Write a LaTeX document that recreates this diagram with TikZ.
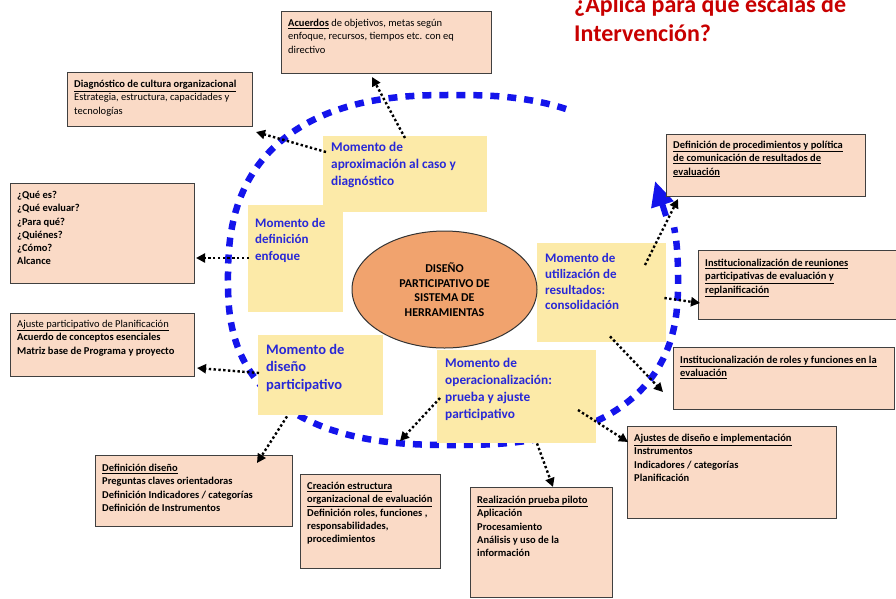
\documentclass[tikz,border=0pt]{standalone}
\usepackage{fontspec}
\setmainfont{Carlito}
\usetikzlibrary{arrows.meta,calc,shapes.geometric}
\definecolor{salmon}{RGB}{250,218,198}
\definecolor{yel}{RGB}{252,234,168}
\definecolor{orng}{RGB}{241,163,110}
\definecolor{bluet}{RGB}{40,40,215}
\definecolor{blueline}{RGB}{20,20,235}
\definecolor{redt}{RGB}{200,0,0}
\newcommand{\ulx}[1]{\underline{#1}}
\tikzset{
 bx/.style={draw=black!75, line width=1pt, fill=salmon, anchor=north west, inner sep=0pt},
 bt/.style={anchor=north west, align=left, font=\fontsize{10.5}{13.3}\selectfont, inner sep=0pt},
 btb/.style={bt, font=\fontsize{10.5}{13.3}\selectfont\bfseries},
 yb/.style={fill=yel, anchor=north west, inner sep=0pt},
 yt/.style={anchor=north west, align=left, text=bluet, font=\fontsize{13.3}{17}\selectfont\bfseries, inner sep=0pt},
 darr/.style={line width=2.4pt, dash pattern=on 2.4pt off 2.4pt, -{Triangle[length=9pt,width=9pt]}},
 ttl/.style={anchor=base west, text=redt, font=\fontsize{24}{28}\selectfont\bfseries, inner sep=0pt},
}
\begin{document}
\begin{tikzpicture}[x=1pt,y=-1pt]
\useasboundingbox (0,0) rectangle (896,598);
% title
\node[ttl] (t1) at (574,12) {¿Aplica para qué escalas de};
\node[ttl] (t2) at (574,41) {Intervención?};
% blue cycle (flattened ellipse)
\draw[blueline, line width=6.5pt, dash pattern=on 9pt off 8pt] plot[domain=65:372, samples=157, smooth]
 ({453+225*sign(cos(\x))*pow(abs(cos(\x))+0.00001,0.8)},
  {280-(sin(\x)>0 ? 185 : 165)*sign(sin(\x))*pow(abs(sin(\x))+0.00001,0.8)});
\coordinate (bs) at (666,216);
\coordinate (be) at (655,181);
\draw[blueline, line width=6pt, -{Triangle[length=25pt,width=22pt]}] (bs) -- (be);
% salmon boxes
\node[bx, minimum width=210pt, minimum height=62pt] (b1) at (281,11) {};
\node[bt] at ($(b1.north west)+(7,8)$) {\ulx{\textbf{Acuerdos}} de objetivos, metas según\\enfoque, recursos, tiempos etc. con eq\\directivo};
\node[bx, minimum width=185pt, minimum height=54pt] (b2) at (67,72) {};
\node[bt] at ($(b2.north west)+(7,8)$) {\ulx{\textbf{Diagnóstico de cultura organizacional}}\\Estrategia, estructura, capacidades y\\tecnologías};
\node[bx, minimum width=184pt, minimum height=100pt] (b3) at (10,183) {};
\node[btb] at ($(b3.north west)+(7,8)$) {¿Qué es?\\¿Qué evaluar?\\¿Para qué?\\¿Quiénes?\\¿Cómo?\\Alcance};
\node[bx, minimum width=184pt, minimum height=63pt] (b4) at (10,313) {};
\node[bt] at ($(b4.north west)+(7,7)$) {\ulx{Ajuste participativo de Planificación}\\\textbf{Acuerdo de conceptos esenciales}\\\textbf{Matriz base de Programa y proyecto}};
\node[bx, minimum width=197pt, minimum height=71pt] (b5) at (95,455) {};
\node[btb] at ($(b5.north west)+(7,9)$) {\ulx{Definición diseño}\\Preguntas claves orientadoras\\Definición Indicadores / categorías\\Definición de Instrumentos};
\node[bx, minimum width=140pt, minimum height=94pt] (b6) at (300,474) {};
\node[btb] at ($(b6.north west)+(7,8)$) {\ulx{Creación estructura}\\\ulx{organizacional de evaluación}\\Definición roles, funciones ,\\responsabilidades,\\procedimientos};
\node[bx, minimum width=142pt, minimum height=110pt] (b7) at (470,487) {};
\node[btb] at ($(b7.north west)+(7,9)$) {\ulx{Realización prueba piloto}\\Aplicación\\Procesamiento\\Análisis y uso de la\\información};
\node[bx, minimum width=209pt, minimum height=92pt] (b8) at (627,426) {};
\node[btb] at ($(b8.north west)+(7,8)$) {\ulx{Ajustes de diseño e implementación}\\Instrumentos\\Indicadores / categorías\\Planificación};
\node[bx, minimum width=221pt, minimum height=62pt] (b9) at (673,347) {};
\node[btb] at ($(b9.north west)+(7,9)$) {\ulx{Institucionalización de roles y funciones en la}\\\ulx{evaluación}};
\node[bx, minimum width=198pt, minimum height=69pt] (b10) at (698,250) {};
\node[btb] at ($(b10.north west)+(7,9)$) {\ulx{Institucionalización de reuniones}\\\ulx{participativas de evaluación y}\\\ulx{replanificación}};
\node[bx, minimum width=199pt, minimum height=62pt] (b11) at (666,134) {};
\node[btb] at ($(b11.north west)+(7,7)$) {\ulx{Definición de procedimientos y política}\\\ulx{de comunicación de resultados de}\\\ulx{evaluación}};
% yellow boxes
\node[yb, minimum width=164pt, minimum height=76pt] (y1) at (323,136) {};
\node[yb, minimum width=95pt, minimum height=107pt] (y2) at (248,205) {};
\node[yt] at ($(y1.north west)+(8,6)$) {Momento de\\aproximación al caso y\\diagnóstico};
\node[yt, font=\fontsize{13}{16.6}\selectfont\bfseries] at ($(y2.north west)+(7,13)$) {Momento de\\definición\\enfoque};
\node[yb, minimum width=125pt, minimum height=80pt] (y3) at (258,335) {};
\node[yt, font=\fontsize{14.5}{17.6}\selectfont\bfseries] at ($(y3.north west)+(8,9)$) {Momento de\\diseño\\participativo};
\node[yb, minimum width=159pt, minimum height=93pt] (y4) at (437,350) {};
\node[yt] at ($(y4.north west)+(8,8)$) {Momento de\\operacionalización:\\prueba y ajuste\\participativo};
\node[yb, minimum width=129pt, minimum height=99pt] (y5) at (537,243) {};
\node[yt, font=\fontsize{13}{15.7}\selectfont\bfseries] at ($(y5.north west)+(8,10.5)$) {Momento de\\utilización de\\resultados:\\consolidación};
% ellipse
\node[ellipse, draw=black!80, line width=1pt, fill=orng, minimum width=185pt, minimum height=117pt, align=center, font=\fontsize{12}{14.7}\selectfont\bfseries] (e) at (444.5,289.5) {DISEÑO\\PARTICIPATIVO DE\\SISTEMA DE\\HERRAMIENTAS};
% dotted connectors
\coordinate (a6e) at (400,441);
\coordinate (a9e) at (663,392);
\draw[darr] ($(y1.north west)+(82,2)$) -- ($(b1.south west)+(91,3)$);
\draw[darr] ($(y1.north west)+(3,16)$) -- ($(b2.south east)+(3,5)$);
\draw[darr] ($(y2.north west)+(1,53)$) -- ($(b3.north east)+(1,75)$);
\draw[darr] ($(y3.north west)+(1,38)$) -- ($(b4.north east)+(2,55)$);
\draw[darr] ($(y3.south west)+(29,1)$) -- ($(b5.north east)+(-36,8)$);
\draw[darr] ($(y4.north west)+(3,48)$) -- (a6e);
\draw[darr] ($(y4.south west)+(100,0)$) -- ($(b7.north west)+(83,0)$);
\draw[darr] ($(y4.north west)+(141,60)$) -- ($(b8.north west)+(1,16)$);
\draw[darr] ($(y5.south west)+(73,-6)$) -- (a9e);
\draw[darr] ($(y5.north east)+(-2,55)$) -- ($(b10.south west)+(2,-17)$);
\draw[darr] ($(y5.north west)+(108,22)$) -- ($(b11.south west)+(12,2)$);
\end{tikzpicture}
\end{document}
